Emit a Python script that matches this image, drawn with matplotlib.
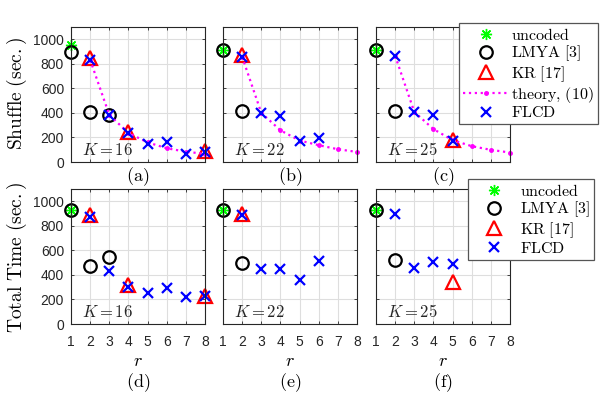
import matplotlib
matplotlib.use('Agg')
import matplotlib.pyplot as plt
from matplotlib.lines import Line2D

plt.rcParams['mathtext.fontset'] = 'cm'
plt.rcParams['font.family'] = ['Liberation Sans', 'DejaVu Sans']

# ---------------- data ----------------
K_values = [16, 22, 25]
r_ticks = [1, 2, 3, 4, 5, 6, 7, 8]
y_ticks = [0, 200, 400, 600, 800, 1000]
panel_tags = ['(a)', '(b)', '(c)', '(d)', '(e)', '(f)']

# Shuffle time (sec.)
sh_uncoded = [950, 915, 915]
sh_lmya_r = [[1, 2, 3], [1, 2], [1, 2]]
sh_lmya = [[900, 411, 384], [915, 419], [915, 419]]
sh_kr_r = [[2, 4, 8], [2], [5]]
sh_kr = [[845, 241, 88], [874], [181]]
sh_theory_r = [[2, 3, 4, 5, 6, 7, 8], [2, 3, 4, 5, 6, 7, 8], [2, 3, 4, 5, 6, 7, 8]]
sh_theory = [[833, 384, 236, 160, 112, 84, 66],
             [858, 400, 258, 175, 137, 104, 82],
             [866, 408, 268, 178, 129, 99, 77]]
sh_flcd_r = [[2, 3, 4, 5, 6, 7, 8], [2, 3, 4, 5, 6], [2, 3, 4, 5]]
sh_flcd = [[833, 384, 236, 145, 159, 66, 85],
           [858, 400, 373, 175, 195],
           [866, 408, 381, 175]]

# Total time (sec.)
tt_uncoded = [926, 926, 926]
tt_lmya_r = [[1, 2, 3], [1, 2], [1, 2]]
tt_lmya = [[926, 473, 544], [926, 497], [926, 522]]
tt_kr_r = [[2, 4, 8], [2], [5]]
tt_kr = [[888, 314, 230], [893], [344]]
tt_flcd_r = [[2, 3, 4, 5, 6, 7, 8], [2, 3, 4, 5, 6], [2, 3, 4, 5]]
tt_flcd = [[874, 434, 298, 249, 292, 216, 230],
           [885, 448, 451, 361, 516],
           [893, 459, 505, 492]]

# ---------------- styles ----------------
GREEN = (0.0, 1.0, 0.0)
STAR = (8, 2, 0)
ms_circ = 9
ms_tri = 9.5
ms_x = 7
ms_star = 8
mew_star = 1.0

W, H = 609, 397
fig = plt.figure(figsize=(W / 100, H / 100), dpi=100)

lefts = [71, 223, 376]
tops = [27, 189]
aw, ah = 134, 135

axes = []
for row in range(2):
    for col in range(3):
        l = lefts[col] / W
        b = 1 - (tops[row] + ah) / H
        ax = fig.add_axes([l, b, aw / W, ah / H])
        axes.append(ax)


def style_axis(ax, show_x, show_y):
    ax.set_xlim(1, 8)
    ax.set_ylim(0, 1100)
    ax.set_xticks(r_ticks)
    ax.set_yticks(y_ticks)
    ax.grid(True, color='#dedede', linewidth=0.8)
    ax.set_axisbelow(True)
    for s in ax.spines.values():
        s.set_color('#262626')
        s.set_linewidth(0.8)
    ax.tick_params(direction='in', length=2.5, width=0.6, color='#262626',
                   top=True, right=True, labelsize=10,
                   labelbottom=show_x, labelleft=show_y, labelcolor='#262626')
    ax.tick_params(axis='x', pad=8)
    ax.tick_params(axis='y', pad=5)


def scatter(ax, x, y, **kw):
    ax.plot(x, y, linestyle='none', clip_on=False, **kw)


for i in range(3):
    ax = axes[i]
    style_axis(ax, False, i == 0)
    scatter(ax, [1], [sh_uncoded[i]], marker=STAR, color=GREEN, ms=ms_star, mew=mew_star)
    scatter(ax, sh_lmya_r[i], sh_lmya[i], marker='o', mfc='none', mec='k', ms=ms_circ, mew=1.6)
    scatter(ax, sh_kr_r[i], sh_kr[i], marker='^', mfc='none', mec='red', ms=ms_tri, mew=1.6)
    ax.plot(sh_theory_r[i], sh_theory[i], linestyle=':', color='magenta', lw=1.6,
            marker='.', ms=5, clip_on=False)
    scatter(ax, sh_flcd_r[i], sh_flcd[i], marker='x', color='blue', ms=ms_x, mew=1.6)

for i in range(3):
    ax = axes[3 + i]
    style_axis(ax, True, i == 0)
    scatter(ax, [1], [tt_uncoded[i]], marker=STAR, color=GREEN, ms=ms_star, mew=mew_star)
    scatter(ax, tt_lmya_r[i], tt_lmya[i], marker='o', mfc='none', mec='k', ms=ms_circ, mew=1.6)
    scatter(ax, tt_kr_r[i], tt_kr[i], marker='^', mfc='none', mec='red', ms=ms_tri, mew=1.6)
    scatter(ax, tt_flcd_r[i], tt_flcd[i], marker='x', color='blue', ms=ms_x, mew=1.6)

# K labels and panel tags
for j, ax in enumerate(axes):
    K = K_values[j % 3]
    ax.text(0.08, 0.09, r'$K{=}%d$' % K, transform=ax.transAxes, fontsize=12,
            ha='left', va='center', color='#262626')
    if j < 3:
        ax.text(0.5, -0.105, r'$\mathrm{%s}$' % panel_tags[j], transform=ax.transAxes,
                fontsize=13, ha='center', va='center')
    else:
        ax.text(0.5, -0.28, r'$r$', transform=ax.transAxes, fontsize=13,
                ha='center', va='center')
        ax.text(0.5, -0.435, r'$\mathrm{%s}$' % panel_tags[j], transform=ax.transAxes,
                fontsize=13, ha='center', va='center')

fig.text(17 / W, 1 - 94 / H, r'$\mathrm{Shuffle\ (sec.)}$', rotation=90, fontsize=14,
         ha='center', va='center')
fig.text(17 / W, 1 - 257 / H, r'$\mathrm{Total\ Time\ (sec.)}$', rotation=90, fontsize=14,
         ha='center', va='center')

# legends
h_unc = Line2D([], [], linestyle='none', marker=STAR, color=GREEN, ms=ms_star, mew=mew_star)
h_lmya = Line2D([], [], linestyle='none', marker='o', mfc='none', mec='k', ms=ms_circ, mew=1.6)
h_kr = Line2D([], [], linestyle='none', marker='^', mfc='none', mec='red', ms=ms_tri, mew=1.6)
h_th = Line2D([], [], linestyle=':', color='magenta', lw=1.6, marker='.', ms=5)
h_fl = Line2D([], [], linestyle='none', marker='x', color='blue', ms=ms_x, mew=1.6)

leg_kw = dict(fontsize=11.5, frameon=True, fancybox=False, framealpha=1,
              edgecolor='#555555', borderpad=0.25, labelspacing=0.05,
              handletextpad=0.2, borderaxespad=0, handlelength=2.8)

l1 = fig.legend([h_unc, h_lmya, h_kr, h_th, h_fl],
                [r'$\mathrm{uncoded}$', r'$\mathrm{LMYA\ [3]}$', r'$\mathrm{KR\ [17]}$',
                 r'$\mathrm{theory{,}\ (10)}$', r'$\mathrm{FLCD}$'],
                loc='upper right', bbox_to_anchor=(598 / W, 1 - 23 / H), **leg_kw)
l1.get_frame().set_linewidth(0.9)

l2 = fig.legend([h_unc, h_lmya, h_kr, h_fl],
                [r'$\mathrm{uncoded}$', r'$\mathrm{LMYA\ [3]}$', r'$\mathrm{KR\ [17]}$',
                 r'$\mathrm{FLCD}$'],
                loc='upper right', bbox_to_anchor=(594 / W, 1 - 179 / H), **leg_kw)
l2.get_frame().set_linewidth(0.9)

fig.savefig('out.png', dpi=100)
